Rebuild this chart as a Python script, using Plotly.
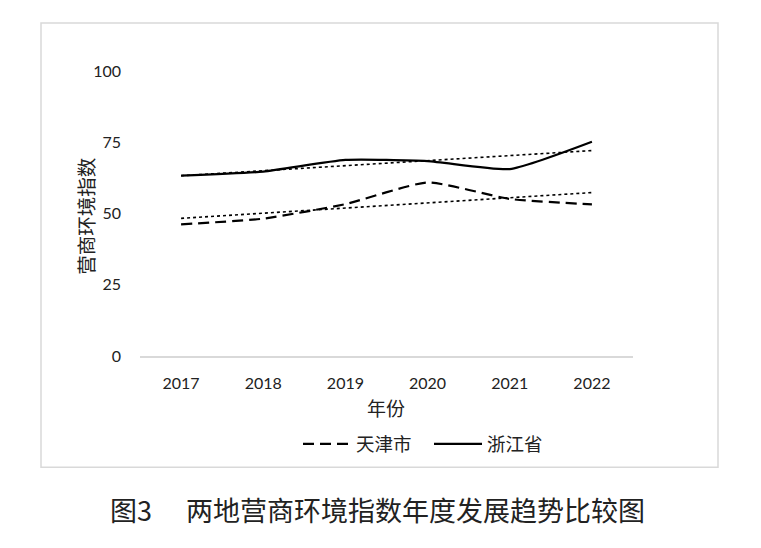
import numpy as np
import plotly.graph_objects as go

years = ["2017", "2018", "2019", "2020", "2021", "2022"]
tianjin = [46.2, 48.2, 53.3, 60.9, 55.1, 53.2]
zhejiang = [63.3, 64.7, 68.8, 68.4, 65.6, 75.2]
series_names = ["天津市", "浙江省"]
y_ticks = [0, 25, 50, 75, 100]

OFF = 8  # page body margin
W, H = 761 - OFF, 548 - OFF
L, R, T, B = 140 - OFF, 761 - 633, 71 - OFF, 548 - 356.5
pw, ph = W - L - R, H - T - B

def px_x(p):
    return (p - OFF - L) / pw

def px_y(p):
    return (H - B - (p - OFF)) / ph

idx = np.arange(len(years))
trend_tj = np.polyval(np.polyfit(idx, tianjin, 1), idx)
trend_zj = np.polyval(np.polyfit(idx, zhejiang, 1), idx)

fig = go.Figure()
fig.add_trace(go.Scatter(x=years, y=tianjin, mode="lines", name=series_names[0],
                         line=dict(color="black", width=2.2, dash="11px,6px", shape="spline", smoothing=0.5)))
fig.add_trace(go.Scatter(x=years, y=zhejiang, mode="lines", name=series_names[1],
                         line=dict(color="black", width=2.2, shape="spline", smoothing=0.5)))
fig.add_trace(go.Scatter(x=years, y=trend_tj, mode="lines", showlegend=False, hoverinfo="skip",
                         line=dict(color="black", width=1.6, dash="dot")))
fig.add_trace(go.Scatter(x=years, y=trend_zj, mode="lines", showlegend=False, hoverinfo="skip",
                         line=dict(color="black", width=1.6, dash="dot")))

fig.update_layout(
    width=W, height=H,
    margin=dict(l=L, r=R, t=T, b=B),
    paper_bgcolor="white", plot_bgcolor="white",
    font=dict(family="Lato, Noto Sans CJK SC", size=16, color="#222"),
    showlegend=True,
    legend=dict(orientation="h", x=px_x(429), xanchor="center", y=px_y(445), yanchor="middle",
                font=dict(family="Noto Sans CJK SC", size=18.5, color="#222"),
                itemwidth=48, entrywidth=68, entrywidthmode="pixels",
                tracegroupgap=0, bgcolor="rgba(0,0,0,0)"),
    xaxis=dict(type="category", range=[-0.5, 5.5], showgrid=False, zeroline=False, showline=True,
               linecolor="#d9d9d9", linewidth=1.5, ticks="", ticklabelstandoff=12,
               tickfont=dict(family="Lato", size=16, color="#222")),
    yaxis=dict(range=[0, 100], tickvals=y_ticks, showgrid=False, zeroline=False, showline=False,
               ticks="", ticklabelstandoff=18, tickfont=dict(family="Lato", size=16, color="#222")),
)

fig.add_annotation(text="营商环境指数", xref="paper", yref="paper", x=px_x(86), y=px_y(217),
                   xanchor="center", yanchor="middle",
                   showarrow=False, textangle=-90, font=dict(family="Noto Sans CJK SC", size=19.5, color="#222"))
fig.add_annotation(text="年份", xref="paper", yref="paper", x=px_x(386), y=px_y(408),
                   xanchor="center", yanchor="middle",
                   showarrow=False, font=dict(family="Noto Sans CJK SC", size=19, color="#222"))
fig.add_annotation(text="图3", xref="paper", yref="paper",
                   x=px_x(108), y=px_y(510), xanchor="left", yanchor="middle", showarrow=False,
                   font=dict(family="Noto Sans CJK SC", size=27, color="#222"))
fig.add_annotation(text="两地营商环境指数年度发展趋势比较图", xref="paper", yref="paper",
                   x=px_x(415), y=px_y(510), xanchor="center", yanchor="middle", showarrow=False,
                   font=dict(family="Noto Sans CJK SC", size=27, color="#222"))

fig.add_shape(type="rect", xref="paper", yref="paper",
              x0=px_x(41), x1=px_x(718), y0=px_y(468), y1=px_y(23),
              line=dict(color="#d9d9d9", width=1.5), fillcolor="rgba(0,0,0,0)", layer="below")

fig.write_html("out.html")
